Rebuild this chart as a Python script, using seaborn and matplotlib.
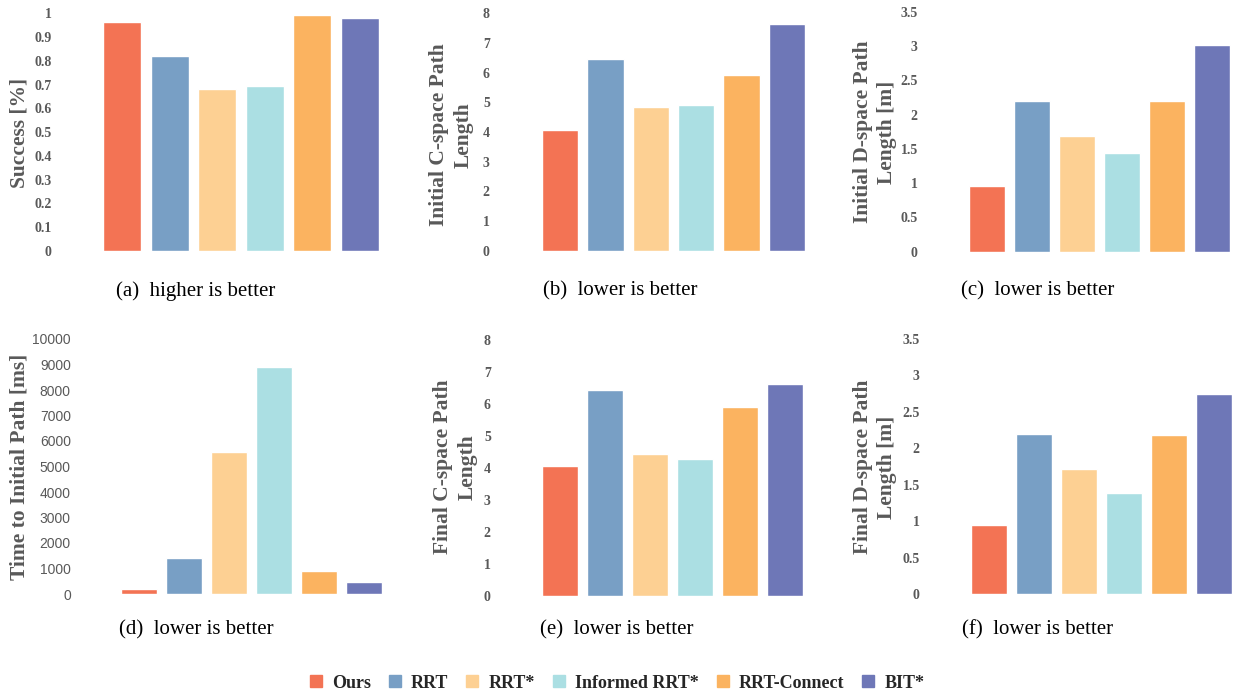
import matplotlib
matplotlib.use("Agg")
import matplotlib.pyplot as plt
import matplotlib.patches as mpatches
import seaborn as sns
import pandas as pd

# Planners and their colours
methods = ["Ours", "RRT", "RRT*", "Informed RRT*", "RRT-Connect", "BIT*"]
colors = ["#F37354", "#789FC5", "#FDD093", "#ABDFE3", "#FBB360", "#6E77B7"]

# Metrics per planner
success = [0.965, 0.82, 0.68, 0.695, 0.994, 0.98]
init_cspace = [4.07, 6.45, 4.84, 4.90, 5.92, 7.63]
init_dspace = [0.96, 2.20, 1.69, 1.44, 2.20, 3.01]
time_initial = [180, 1420, 5570, 8900, 900, 470]
final_cspace = [4.06, 6.44, 4.44, 4.28, 5.90, 6.62]
final_dspace = [0.95, 2.20, 1.71, 1.39, 2.18, 2.74]

ylabels = ["Success [%]", "Initial C-space Path\nLength", "Initial D-space Path\nLength [m]",
           "Time to Initial Path [ms]", "Final C-space Path\nLength", "Final D-space Path\nLength [m]"]
captions = ["(a)  higher is better", "(b)  lower is better", "(c)  lower is better",
            "(d)  lower is better", "(e)  lower is better", "(f)  lower is better"]
yticks = [
    [0, 0.1, 0.2, 0.3, 0.4, 0.5, 0.6, 0.7, 0.8, 0.9, 1],
    [0, 1, 2, 3, 4, 5, 6, 7, 8],
    [0, 0.5, 1, 1.5, 2, 2.5, 3, 3.5],
    [0, 1000, 2000, 3000, 4000, 5000, 6000, 7000, 8000, 9000, 10000],
    [0, 1, 2, 3, 4, 5, 6, 7, 8],
    [0, 0.5, 1, 1.5, 2, 2.5, 3, 3.5],
]
series = [success, init_cspace, init_dspace, time_initial, final_cspace, final_dspace]

sns.set_theme(style="white")
plt.rcParams["font.family"] = ["Liberation Serif", "DejaVu Serif"]

W, H = 1233, 695
fig = plt.figure(figsize=(W / 100, H / 100), dpi=100)

# Panel geometry in pixels: axes left, first bar centre, bar pitch, y=0 pixel, top pixel
layout = [
    (56, 122, 47.6, 251, 13.3),
    (494, 560, 45.4, 250.7, 13.3),
    (922, 987, 45.0, 251.7, 11.7),
    (75, 139, 45.0, 594, 339),
    (495, 560, 45.0, 596, 340),
    (924, 989, 45.0, 594, 339),
]
label_pos = [(20, 133), (451, 135), (875, 132), (20, 467), (455, 467), (875, 467)]
caption_pos = [(196, 291), (620, 291), (1038, 291), (196, 630), (617, 630), (1038, 630)]

grey = "#595959"
for i, vals in enumerate(series):
    left, c0, pitch, y0, y1 = layout[i]
    right = c0 + 5.5 * pitch
    right = min(right, W - 1)
    ax = fig.add_axes([left / W, 1 - y0 / H, (right - left) / W, (y0 - y1) / H])
    df = pd.DataFrame({"method": methods, "value": vals})
    sns.barplot(data=df, x="method", y="value", hue="method", palette=colors,
                order=methods, hue_order=methods, width=0.8, saturation=1,
                legend=False, ax=ax)
    ax.set_xlim(-(c0 - left) / pitch, (right - c0) / pitch)
    ax.set_ylim(yticks[i][0], yticks[i][-1])
    ax.set_yticks(yticks[i])
    ax.set_yticklabels([f"{t:g}" for t in yticks[i]])
    ax.set_xticks([])
    ax.set_xlabel("")
    ax.set_ylabel("")
    for s in ax.spines.values():
        s.set_visible(False)
    ax.tick_params(axis="y", length=0, pad=3)
    for lab in ax.get_yticklabels():
        if i == 3:
            lab.set_fontfamily(["Liberation Sans", "DejaVu Sans"])
            lab.set_fontsize(10)
            lab.set_fontweight("normal")
        else:
            lab.set_fontsize(10)
            lab.set_fontweight("bold")
        lab.set_color(grey)
    ax.patch.set_alpha(0)

    lx, ly = label_pos[i]
    fig.text(lx / W, 1 - ly / H, ylabels[i], rotation=90, ha="center", va="center",
             multialignment="center", fontsize=15.5, fontweight="bold", color=grey,
             linespacing=1.3)
    cx, cy = caption_pos[i]
    fig.text(cx / W, 1 - cy / H, captions[i], ha="center", va="center",
             fontsize=15, color="black")

handles = [mpatches.Patch(color=c, label=m) for m, c in zip(methods, colors)]
fig.legend(handles=handles, loc="center", bbox_to_anchor=(617 / W, 1 - 683 / H),
           ncol=6, frameon=False, prop={"weight": "bold", "size": 13},
           handlelength=0.67, handleheight=0.67, handletextpad=0.55,
           columnspacing=1.0, borderaxespad=0)

fig.savefig("out.png", dpi=100)
